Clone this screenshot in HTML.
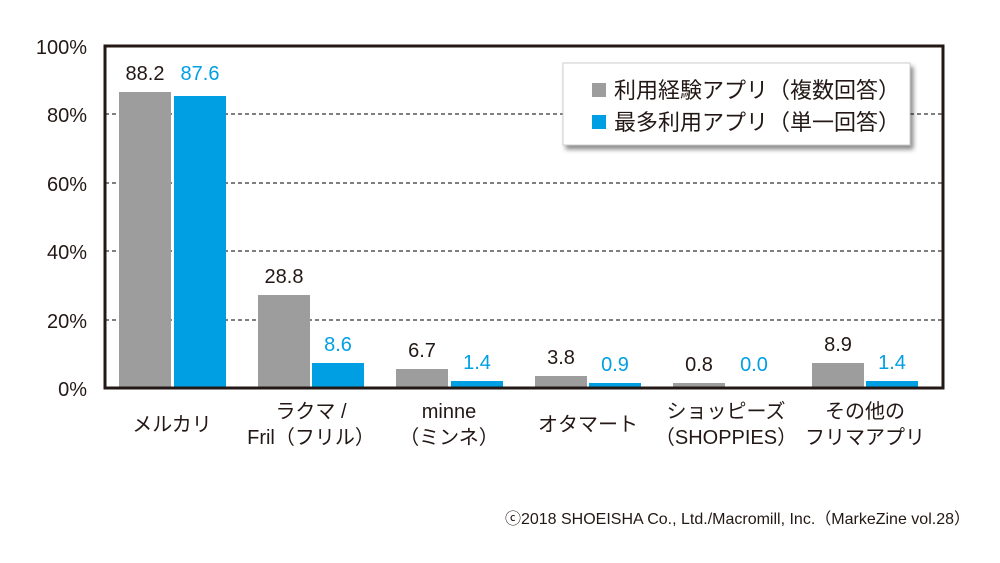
<!DOCTYPE html>
<html><head><meta charset="utf-8"><style>
body{margin:0;background:#fff;}
svg text{font-family:"Liberation Sans","Noto Sans CJK JP",sans-serif;}
</style></head><body>
<svg width="1000" height="558" viewBox="0 0 1000 558" xmlns="http://www.w3.org/2000/svg">
<defs><filter id="sh" x="-10%" y="-10%" width="130%" height="140%"><feDropShadow dx="3" dy="4" stdDeviation="2.5" flood-color="#000" flood-opacity="0.45"/></filter></defs>
<g stroke="#333" stroke-width="1.2" stroke-dasharray="4,3">
<line x1="105" y1="114" x2="943" y2="114"/>
<line x1="105" y1="183" x2="943" y2="183"/>
<line x1="105" y1="251" x2="943" y2="251"/>
<line x1="105" y1="320" x2="943" y2="320"/>
</g>
<g fill="#9d9d9e">
<rect x="119" y="92" width="52" height="296"/>
<rect x="258" y="295" width="52" height="93"/>
<rect x="396" y="369" width="52" height="19"/>
<rect x="535" y="376" width="52" height="12"/>
<rect x="673" y="383" width="52" height="5"/>
<rect x="812" y="363" width="52" height="25"/>
</g>
<g fill="#009fe3">
<rect x="174" y="96" width="52" height="292"/>
<rect x="312" y="363" width="52" height="25"/>
<rect x="451" y="381" width="52" height="7"/>
<rect x="589" y="383" width="52" height="5"/>
<rect x="866" y="381" width="52" height="7"/>
</g>
<rect x="105" y="46" width="838" height="342" fill="none" stroke="#231815" stroke-width="3"/>
<g font-size="20" fill="#231815" text-anchor="end">
<text x="87" y="54">100%</text><text x="87" y="122">80%</text><text x="87" y="191">60%</text>
<text x="87" y="259">40%</text><text x="87" y="328">20%</text><text x="87" y="396">0%</text>
</g>
<g font-size="20" text-anchor="middle" fill="#231815">
<text x="145" y="80">88.2</text><text x="284" y="283">28.8</text><text x="422" y="357">6.7</text>
<text x="561" y="364">3.8</text><text x="699" y="371">0.8</text><text x="838" y="351">8.9</text>
</g>
<g font-size="20" text-anchor="middle" fill="#009fe3">
<text x="200" y="80">87.6</text><text x="338" y="351">8.6</text><text x="477" y="369">1.4</text>
<text x="615" y="371">0.9</text><text x="754" y="371">0.0</text><text x="892" y="369">1.4</text>
</g>
<g font-size="20" text-anchor="middle" fill="#231815">
<text x="172" y="431">メルカリ</text>
<text x="311" y="418">ラクマ /</text><text x="311" y="444">Fril（フリル）</text>
<text x="449" y="418">minne</text><text x="449" y="444">（ミンネ）</text>
<text x="588" y="431">オタマート</text>
<text x="726" y="418">ショッピーズ</text><text x="726" y="444">（SHOPPIES）</text>
<text x="865" y="418">その他の</text><text x="865" y="444">フリマアプリ</text>
</g>
<rect x="563" y="63" width="347" height="82" fill="#fff" stroke="#ccc" stroke-width="1" filter="url(#sh)"/>
<rect x="592" y="83" width="14" height="14" fill="#9d9d9e"/>
<rect x="592" y="115" width="14" height="14" fill="#009fe3"/>
<g font-size="22" fill="#231815">
<text x="614" y="98">利用経験アプリ（複数回答）</text>
<text x="614" y="130">最多利用アプリ（単一回答）</text>
</g>
<text x="970" y="524" font-size="16" fill="#231815" text-anchor="end">ⓒ2018 SHOEISHA Co., Ltd./Macromill, Inc.（MarkeZine vol.28）</text>
</svg>
</body></html>
